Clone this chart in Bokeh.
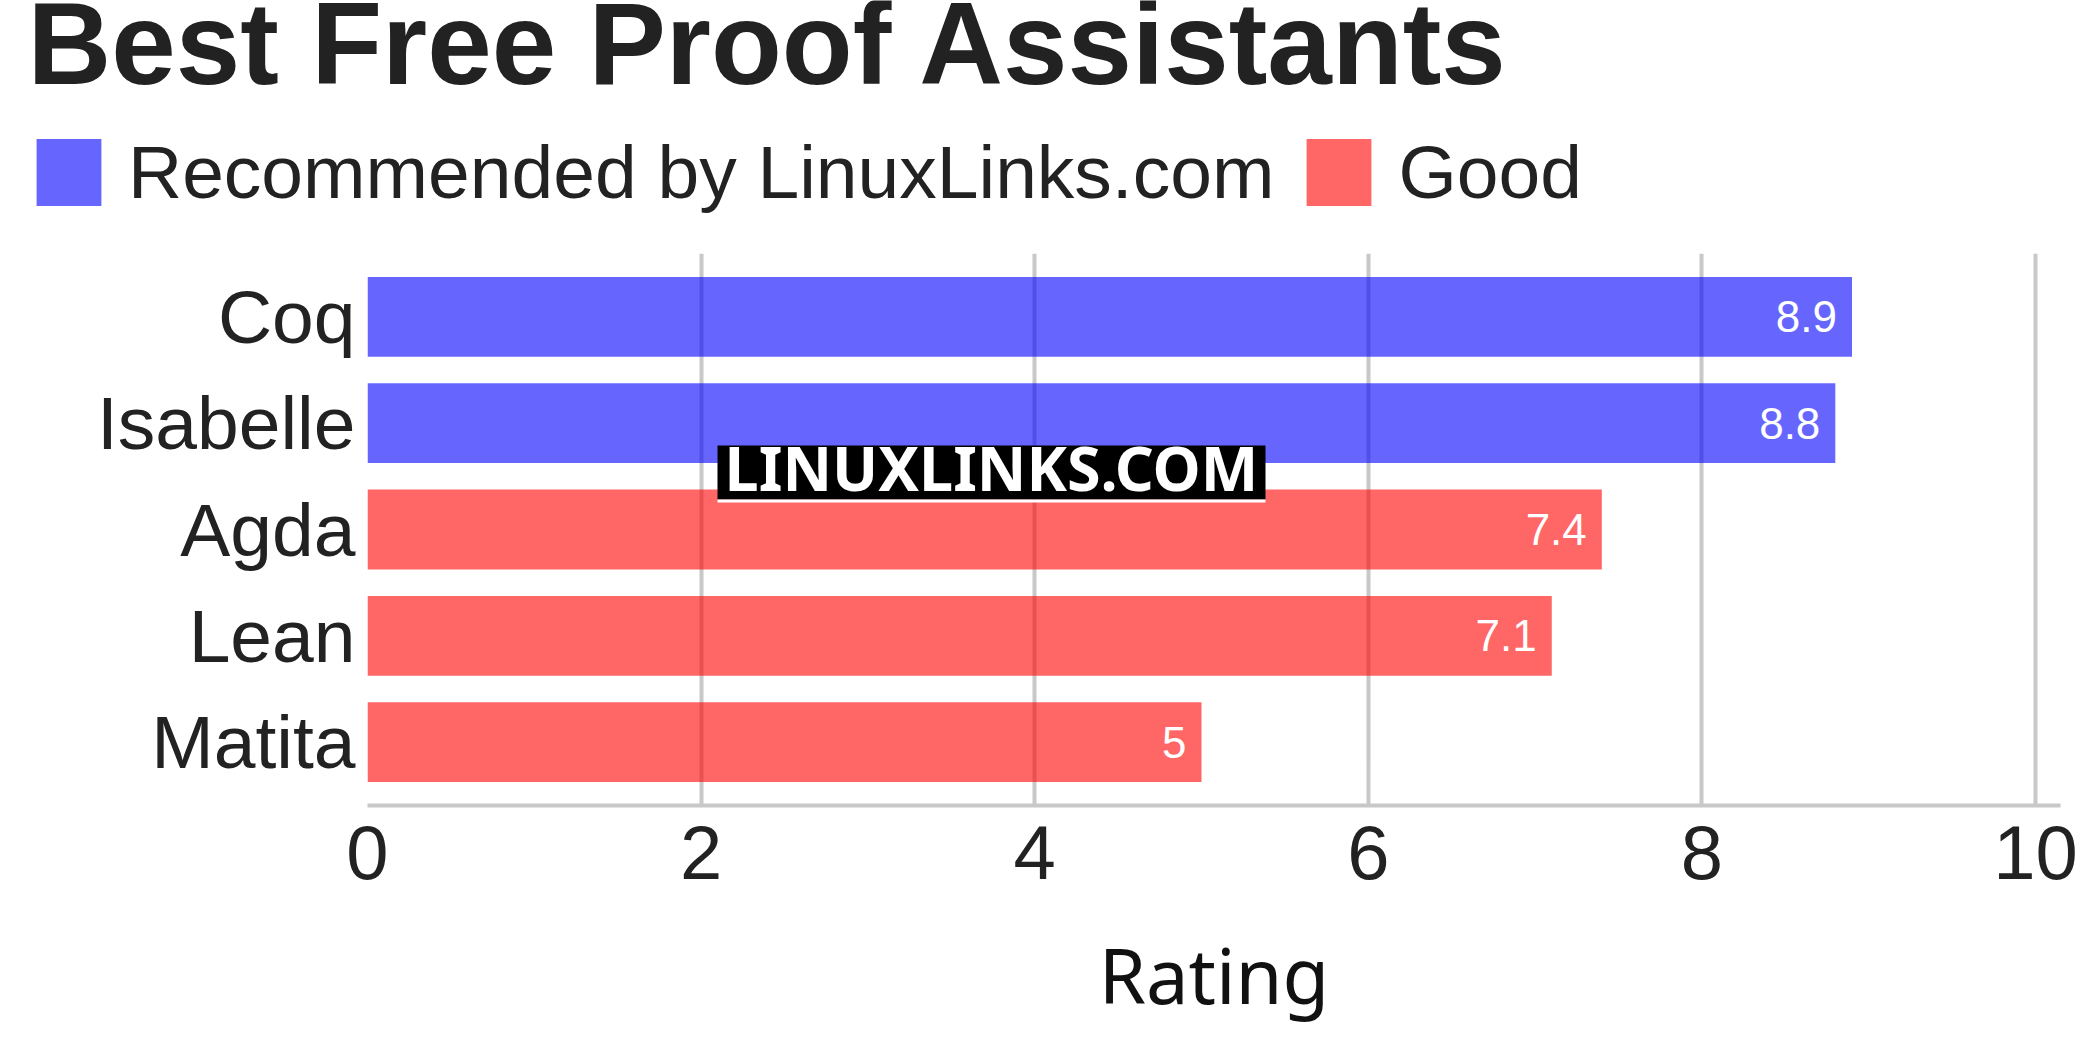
from bokeh.plotting import figure
from bokeh.models import (FactorRange, Range1d, ColumnDataSource, LabelSet, Label,
                          Legend, LegendItem, BoxAnnotation, FixedTicker, Div)
from bokeh.embed import file_html
from bokeh.resources import INLINE
from bokeh.core.properties import value

# ---- data ----
categories = ["Coq", "Isabelle", "Agda", "Lean", "Matita"]
ratings = [8.9, 8.8, 7.4, 7.1, 5]
rating_labels = ["8.9", "8.8", "7.4", "7.1", "5"]
groups = ["Recommended by LinuxLinks.com", "Recommended by LinuxLinks.com", "Good", "Good", "Good"]
group_names = ["Recommended by LinuxLinks.com", "Good"]
group_colors = ["#0000ff", "#ff0000"]
x_ticks = [0, 2, 4, 6, 8, 10]
title_text = "Best Free Proof Assistants"
x_title = "Rating"
watermark = "LINUXLINKS.COM"

W = 2083
HH = 253          # header height (title + legend)
MH = 780          # chart height
FL, FR, FB = 367, 2060, 552   # frame left/right/bottom in chart canvas

# ---- header: title + legend ----
hdr = figure(width=W, height=HH, x_range=Range1d(0, 1), y_range=Range1d(0, 1),
             x_axis_type=None, y_axis_type=None, output_backend="svg",
             toolbar_location=None, min_border=0)
hdr.title.visible = False
hdr.outline_line_color = None
hdr.xgrid.visible = False
hdr.ygrid.visible = False

hdr.add_layout(Label(x=27, y=HH - 86 + 43, x_units="screen", y_units="screen",
                     text=title_text, text_font="Liberation Sans",
                     text_font_size="116px", text_font_style="bold",
                     text_color="#222222", text_baseline="alphabetic"))

# legend swatches (glyphs kept outside the visible header range)
leg_renderers = []
for g, c in zip(group_names, group_colors):
    leg_renderers.append(hdr.hbar(y=[-10], right=[1], left=0, height=0.5, fill_color=c,
                                  fill_alpha=0.6, line_color=None))
legend = Legend(items=[LegendItem(label=g, renderers=[r]) for g, r in zip(group_names, leg_renderers)],
                location=(28, 38), orientation="horizontal",
                glyph_width=81, glyph_height=84, label_standoff=19, spacing=24,
                padding=0, margin=0, border_line_color=None, background_fill_alpha=0,
                label_text_font="Liberation Sans", label_text_font_size="75px",
                label_text_color="#222222")
hdr.add_layout(legend, "center")

# ---- main chart ----
p = figure(width=W, height=MH,
           y_range=FactorRange(factors=categories[::-1], range_padding=0.038),
           x_range=Range1d(0, 10.15),
           output_backend="svg", toolbar_location=None,
           min_border_left=FL, min_border_right=W - FR,
           min_border_top=0, min_border_bottom=MH - FB)
p.title.visible = False
p.outline_line_color = None

for g, c in zip(group_names, group_colors):
    idx = [i for i, gg in enumerate(groups) if gg == g]
    src = ColumnDataSource(dict(cat=[categories[i] for i in idx],
                                val=[ratings[i] for i in idx],
                                lbl=[rating_labels[i] for i in idx]))
    p.hbar(y="cat", right="val", left=0, height=0.75, source=src,
           fill_color=c, fill_alpha=0.6, line_color=None)
    p.add_layout(LabelSet(x="val", y="cat", text="lbl", source=src, x_offset=-15,
                          text_align="right", text_baseline="middle",
                          text_color="white", text_font_size="44px",
                          text_font=value("Liberation Sans")))

p.xaxis.ticker = FixedTicker(ticks=x_ticks)
p.xgrid.ticker = FixedTicker(ticks=x_ticks)
p.xgrid.grid_line_color = "#c8c8c8"
p.xgrid.grid_line_width = 4
p.ygrid.grid_line_color = None

xa = p.xaxis[0]
xa.axis_line_color = "#c8c8c8"
xa.axis_line_width = 4
xa.major_tick_line_color = None
xa.minor_tick_line_color = None
xa.major_label_text_font = "Liberation Sans"
xa.major_label_text_font_size = "76px"
xa.major_label_text_color = "#222222"
xa.major_label_standoff = 14
xa.axis_label = x_title
xa.axis_label_text_font = "Noto Sans"
xa.axis_label_text_font_size = "76px"
xa.axis_label_text_font_style = "normal"
xa.axis_label_text_color = "#111111"
xa.axis_label_standoff = 41

ya = p.yaxis[0]
ya.axis_line_color = None
ya.major_tick_line_color = None
ya.minor_tick_line_color = None
ya.major_label_text_font = "Liberation Sans"
ya.major_label_text_font_size = "75px"
ya.major_label_text_color = "#222222"
ya.major_label_standoff = 6

# watermark
p.add_layout(BoxAnnotation(left=350, right=898, top=360, bottom=306,
                           left_units="screen", right_units="screen",
                           top_units="screen", bottom_units="screen",
                           fill_color="black", fill_alpha=1, line_color=None))
p.add_layout(BoxAnnotation(left=350, right=898, top=306, bottom=303,
                           left_units="screen", right_units="screen",
                           top_units="screen", bottom_units="screen",
                           fill_color="white", fill_alpha=1, line_color=None))
p.add_layout(Label(x=624, y=338, x_units="screen", y_units="screen",
                   text=watermark, text_font="Noto Sans", text_font_size="61px",
                   text_font_style="bold", text_color="white",
                   text_align="center", text_baseline="alphabetic"))

# ---- bottom rule (pinned to the bottom of the window) ----
rule = Div(text="", width=W, height=4,
           styles={"position": "fixed", "left": "0px", "top": "1034px",
                   "background-color": "#000000"})

open("out.html", "w").write(file_html([hdr, p, rule], INLINE))
